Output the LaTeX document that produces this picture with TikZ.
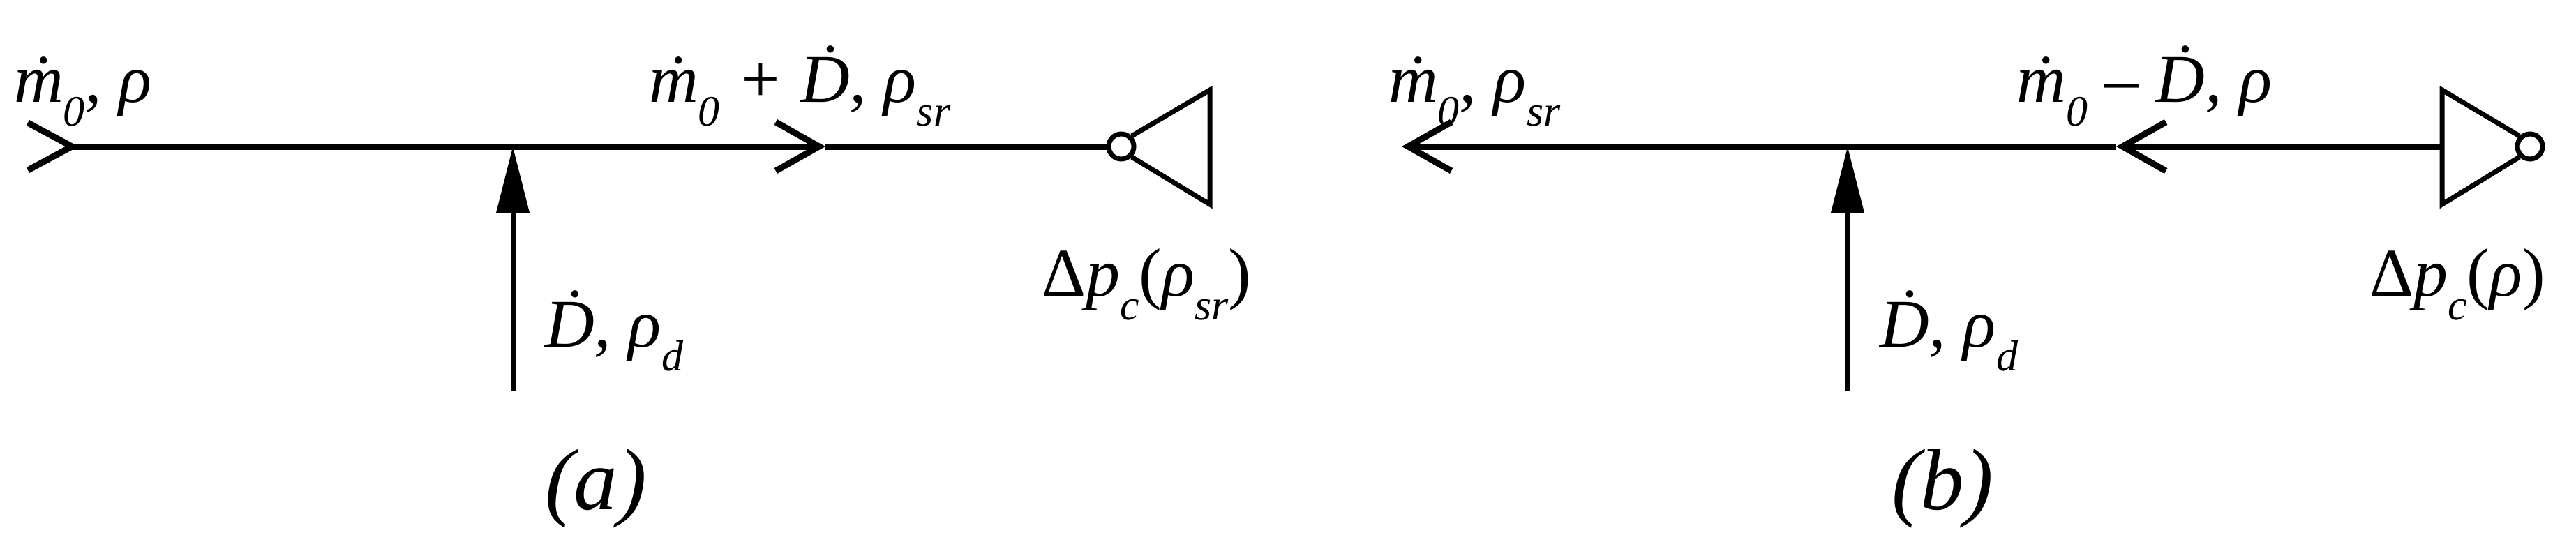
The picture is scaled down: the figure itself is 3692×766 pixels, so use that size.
\documentclass[tikz,border=0pt]{standalone}
\usepackage{fontspec}
\setmainfont{Liberation Serif}
\usetikzlibrary{arrows.meta}
\newcommand{\sbs}[1]{\raisebox{-0.35em}{\fontsize{62}{62}\selectfont #1}}
\tikzset{
  lab/.style={anchor=base west,inner sep=0pt,font=\fontsize{98}{100}\selectfont\itshape},
  captxt/.style={anchor=base west,inner sep=0pt,font=\fontsize{125}{130}\selectfont\itshape},
  chev/.style={-{Straight Barb[length=62pt,width=70pt,line width=9pt]}},
  flow/.style={line width=9pt},
  feed/.style={line width=7pt,-{Triangle[length=95pt,width=46pt]}},
  pump/.style={line width=7pt,line join=miter}
}
\begin{document}
\begin{tikzpicture}[x=1pt,y=-1pt]
\useasboundingbox (0,0) rectangle (3692,766);
% panel a
\coordinate (a0u) at (40,176);
\coordinate (a0d) at (40,244);
\coordinate (a1) at (103,210);
\coordinate (aj) at (735,210);
\coordinate (a2) at (1183,210);
\node[circle,draw,line width=7pt,minimum size=36pt,inner sep=0pt] (ac) at (1607,210) {};
\coordinate (at) at (1734,129);
\coordinate (ab) at (1734,293);
\coordinate (af) at (735,561);
\draw[flow,line join=miter] (a0u) -- (a1) -- (a0d);
\draw[flow,chev] (a1) -- (a2);
\draw[flow] (a2) -- (ac.west);
\draw[pump] (ac.north east) -- (at) -- (ab) -- (ac.south east);
\draw[feed] (af) -- (aj);
\node[lab] (la1) at (20,146) {ṁ\sbs{0}, ρ};
\node[lab] (la2) at (930,146) {ṁ\sbs{0} + Ḋ, ρ\sbs{sr}};
\node[lab] (la3) at (1493,424) {\upshape Δ\itshape p\sbs{c}\upshape(\itshape ρ\sbs{sr}\upshape)};
\node[lab] (la4) at (781,497) {Ḋ, ρ\sbs{d}};
\node[captxt] (la5) at (781,730) {(a)};
% panel b
\coordinate (b1) at (2009,210);
\coordinate (bj) at (2648,210);
\coordinate (b2) at (3033,210);
\coordinate (b3) at (3500,210);
\node[circle,draw,line width=7pt,minimum size=36pt,inner sep=0pt] (bc) at (3626,210) {};
\coordinate (bt) at (3500,129);
\coordinate (bb) at (3500,293);
\coordinate (bf) at (2648,561);
\draw[flow,chev] (b3) -- (b2);
\draw[flow,chev] (b2) -- (b1);
\draw[pump] (bc.north west) -- (bt) -- (bb) -- (bc.south west);
\draw[feed] (bf) -- (bj);
\node[lab] (lb1) at (1990,146) {ṁ\sbs{0}, ρ\sbs{sr}};
\node[lab] (lb2) at (2890,146) {ṁ\sbs{0} – Ḋ, ρ};
\node[lab] (lb3) at (3396,424) {\upshape Δ\itshape p\sbs{c}\upshape(\itshape ρ\upshape)};
\node[lab] (lb4) at (2694,497) {Ḋ, ρ\sbs{d}};
\node[captxt] (lb5) at (2711,730) {(b)};
\end{tikzpicture}
\end{document}
